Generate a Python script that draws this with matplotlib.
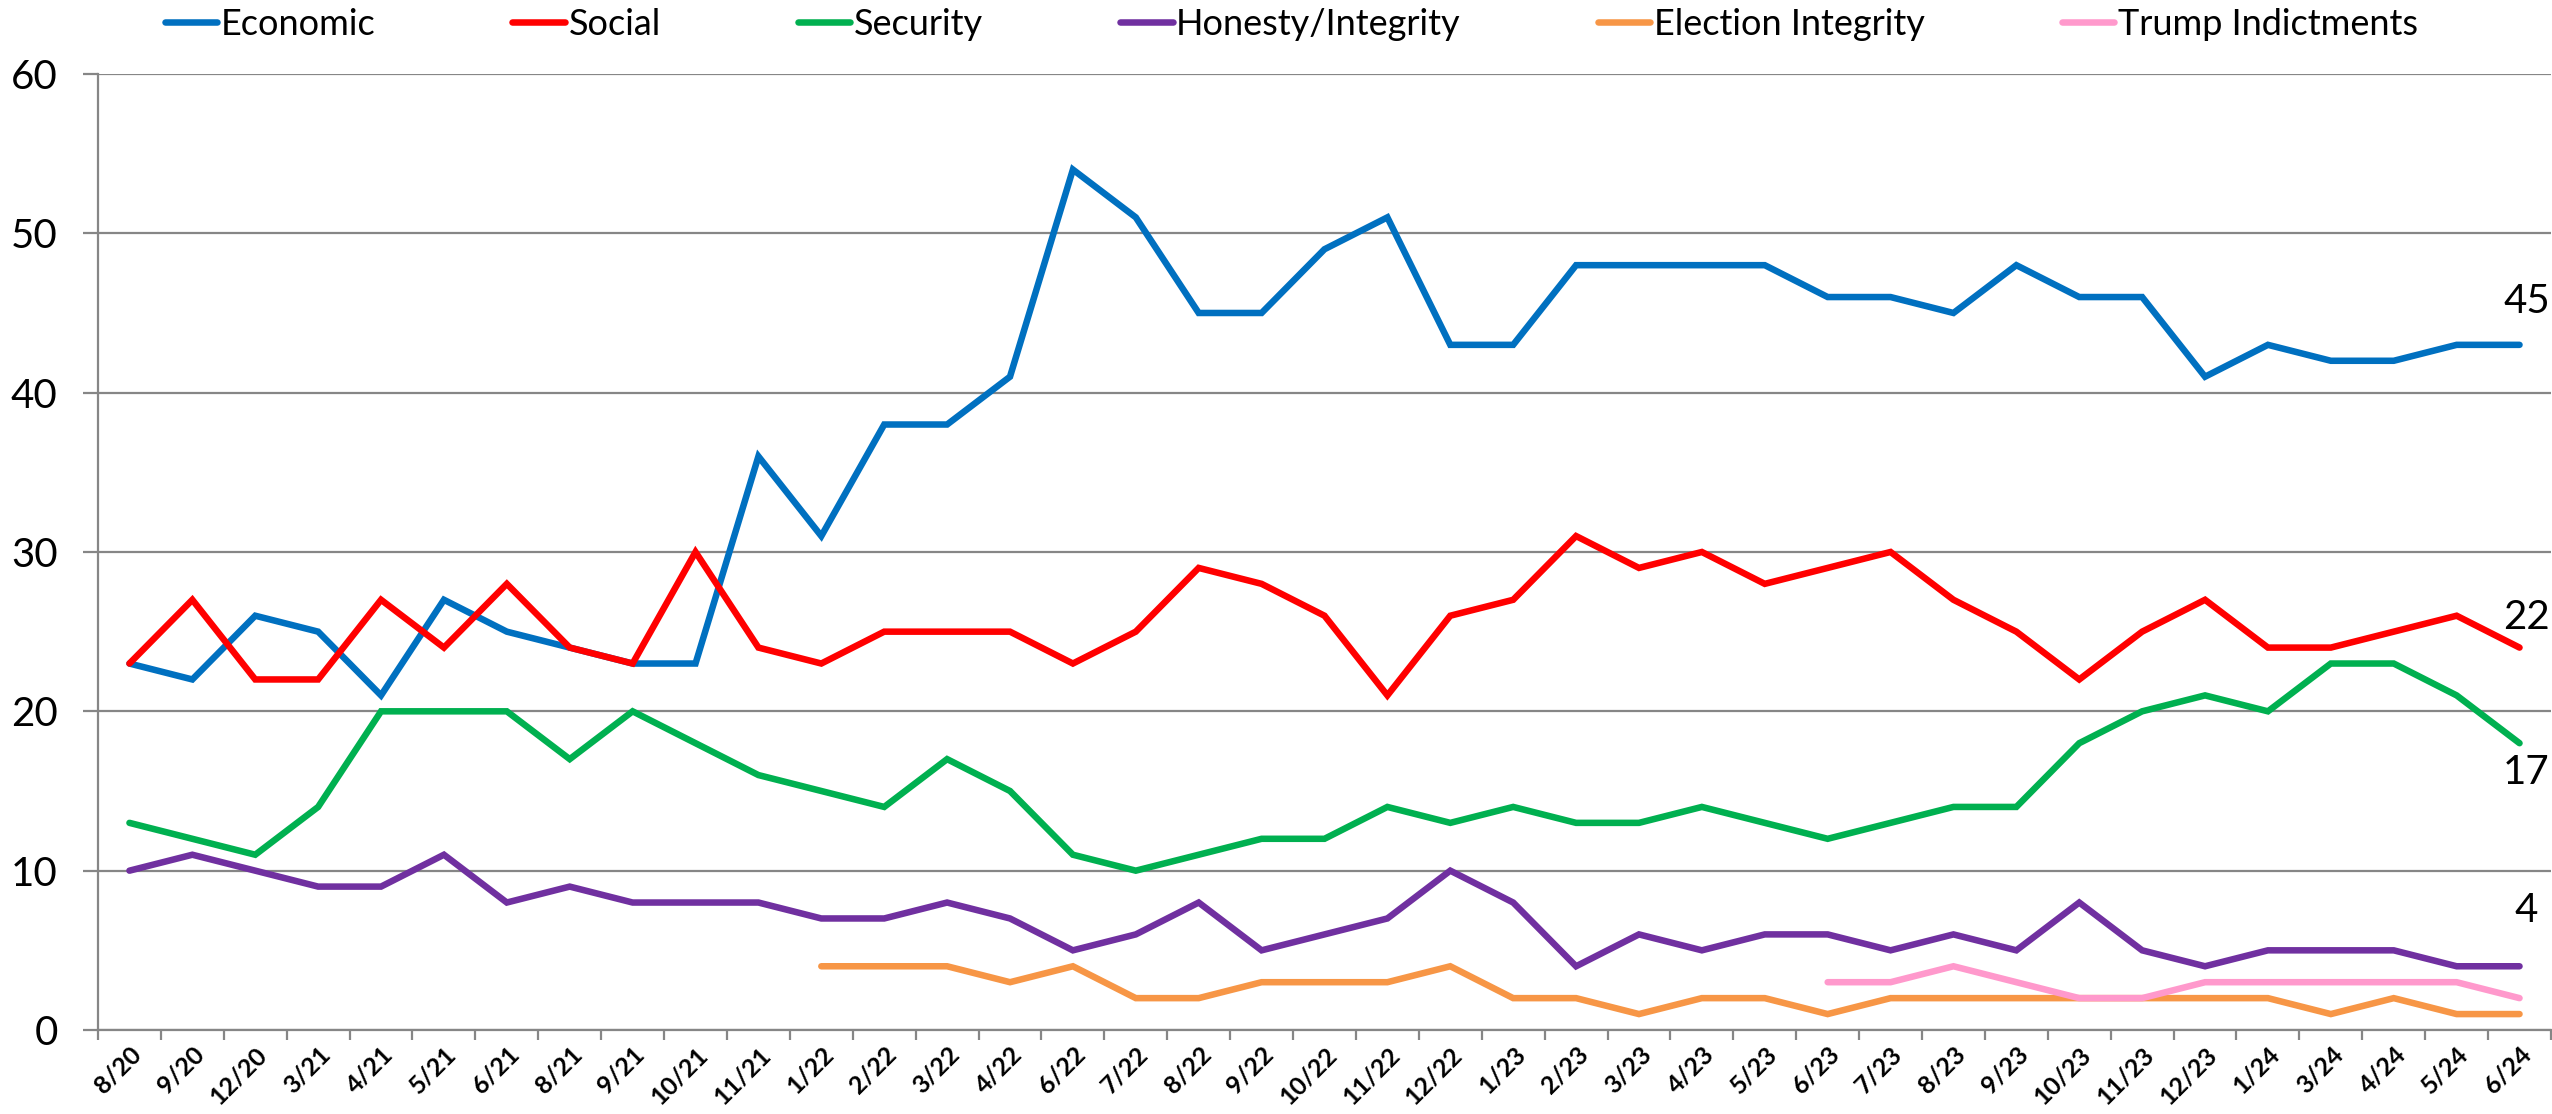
import numpy as np
import matplotlib
matplotlib.use("Agg")
import matplotlib.pyplot as plt
from matplotlib.lines import Line2D
from matplotlib.ticker import FixedLocator, NullFormatter

plt.rcParams['font.family'] = ['Lato', 'DejaVu Sans']

categories = ["8/20", "9/20", "12/20", "3/21", "4/21", "5/21", "6/21", "8/21", "9/21", "10/21",
              "11/21", "1/22", "2/22", "3/22", "4/22", "6/22", "7/22", "8/22", "9/22", "10/22",
              "11/22", "12/22", "1/23", "2/23", "3/23", "4/23", "5/23", "6/23", "7/23", "8/23",
              "9/23", "10/23", "11/23", "12/23", "1/24", "3/24", "4/24", "5/24", "6/24"]

economic = [23, 22, 26, 25, 21, 27, 25, 24, 23, 23, 36, 31, 38, 38, 41, 54, 51, 45, 45, 49,
            51, 43, 43, 48, 48, 48, 48, 46, 46, 45, 48, 46, 46, 41, 43, 42, 42, 43, 43]
social = [23, 27, 22, 22, 27, 24, 28, 24, 23, 30, 24, 23, 25, 25, 25, 23, 25, 29, 28, 26,
          21, 26, 27, 31, 29, 30, 28, 29, 30, 27, 25, 22, 25, 27, 24, 24, 25, 26, 24]
security = [13, 12, 11, 14, 20, 20, 20, 17, 20, 18, 16, 15, 14, 17, 15, 11, 10, 11, 12, 12,
            14, 13, 14, 13, 13, 14, 13, 12, 13, 14, 14, 18, 20, 21, 20, 23, 23, 21, 18]
honesty = [10, 11, 10, 9, 9, 11, 8, 9, 8, 8, 8, 7, 7, 8, 7, 5, 6, 8, 5, 6,
           7, 10, 8, 4, 6, 5, 6, 6, 5, 6, 5, 8, 5, 4, 5, 5, 5, 4, 4]
# Election Integrity starts at 1/22
election_start = "1/22"
election = [4, 4, 4, 3, 4, 2, 2, 3, 3, 3, 4, 2, 2, 1, 2, 2, 1, 2, 2, 2, 2, 2, 2, 2, 1, 2, 1, 1]
# Trump Indictments starts at 6/23
trump_start = "6/23"
trump = [3, 3, 4, 3, 2, 2, 3, 3, 3, 3, 3, 2]

series_names = ["Economic", "Social", "Security", "Honesty/Integrity", "Election Integrity", "Trump Indictments"]
colors = ["#0070C0", "#FF0000", "#00B050", "#7030A0", "#F79646", "#FF99CC"]

end_labels = ["45", "22", "17", "4"]

fig = plt.figure(figsize=(25.52, 11.14), dpi=100)
ax = fig.add_axes([0.0384, 0.0754, 0.9612, 0.8582])

x = np.arange(len(categories))
e0 = categories.index(election_start)
t0 = categories.index(trump_start)
data = [(x, economic), (x, social), (x, security), (x, honesty),
        (x[e0:e0 + len(election)], election), (x[t0:t0 + len(trump)], trump)]

lw = 4.7
for (xs, ys), c, n in zip(data, colors, series_names):
    ax.plot(xs, ys, color=c, lw=lw, solid_joinstyle='miter', solid_capstyle='round', label=n, zorder=3)

ax.set_xlim(-0.5, len(categories) - 0.5)
ax.set_ylim(0, 60)
ax.set_yticks(np.arange(0, 61, 10))
ax.yaxis.grid(True, color='#868686', lw=1.6)
ax.set_axisbelow(True)
ax.tick_params(axis='y', length=11, width=1.6, color='#868686', labelsize=29, pad=18)

ax.set_xticks(x)
ax.set_xticklabels(categories, rotation=45, ha='right', va='top', rotation_mode='anchor',
                   fontsize=18, fontweight='bold')
ax.xaxis.set_minor_locator(FixedLocator(np.arange(-0.5, len(categories), 1.0)))
ax.xaxis.set_minor_formatter(NullFormatter())
ax.tick_params(axis='x', which='major', length=0, pad=9)
ax.tick_params(axis='x', which='minor', length=7, width=1.6, color='#868686')

for s in ['top', 'right']:
    ax.spines[s].set_visible(False)
for s in ['left', 'bottom']:
    ax.spines[s].set_color('#868686')
    ax.spines[s].set_linewidth(1.6)

# end labels
last = len(categories) - 1
offsets = [31, 22, -21, 40]
for lab, ys, off in zip(end_labels, [economic, social, security, honesty], offsets):
    ax.annotate(lab, xy=(last, ys[-1]), xytext=(5, off), textcoords='offset points',
                ha='center', va='center', fontsize=29)

handles = [Line2D([0], [0], color=c, lw=lw, solid_capstyle='round') for c in colors]
fig.legend(handles, series_names, loc='center', bbox_to_anchor=(0.506, 0.978), ncol=6,
           frameon=False, fontsize=26, handlelength=1.45, handletextpad=0.1,
           columnspacing=3.8, borderaxespad=0, borderpad=0)

fig.savefig("out.png", dpi=100)
